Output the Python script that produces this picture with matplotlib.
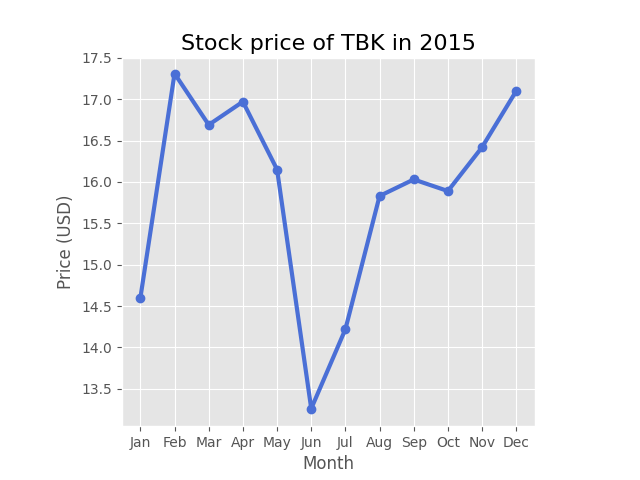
import matplotlib
matplotlib.use("Agg")
import matplotlib.pyplot as plt

plt.style.use("ggplot")

months = ["Jan", "Feb", "Mar", "Apr", "May", "Jun", "Jul", "Aug", "Sep", "Oct", "Nov", "Dec"]
prices = [14.60, 17.31, 16.69, 16.97, 16.15, 13.26, 14.22, 15.83, 16.03, 15.89, 16.42, 17.10]

fig = plt.figure(figsize=(6.4, 4.8), dpi=100)
ax = fig.add_axes([0.19, 0.1125, 0.646, 0.767])
ax.plot(months, prices, color="#4a6fd6", linewidth=3, marker="o", markersize=6)
ax.set_ylim(13.05, 17.5)
ax.set_yticks([13.5, 14.0, 14.5, 15.0, 15.5, 16.0, 16.5, 17.0, 17.5])
ax.set_title("Stock price of TBK in 2015", fontsize=16, color="black")
ax.set_xlabel("Month")
ax.set_ylabel("Price (USD)")

plt.savefig("out.png")
